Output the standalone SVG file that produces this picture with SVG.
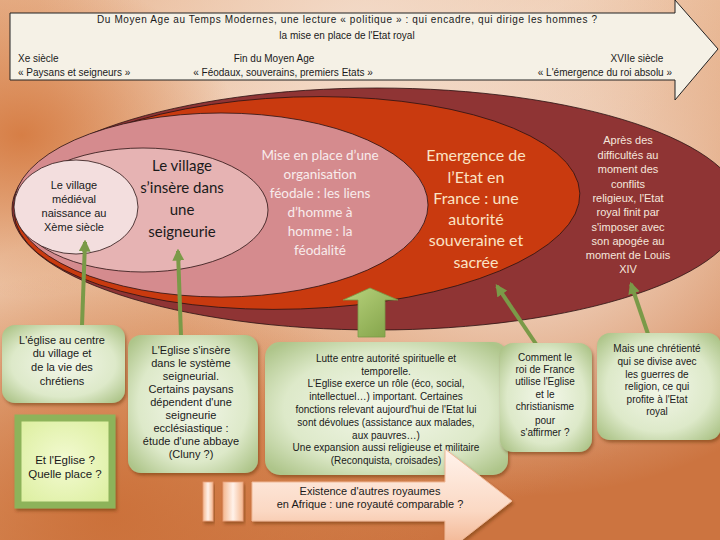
<svg xmlns="http://www.w3.org/2000/svg" width="720" height="540" viewBox="0 0 720 540">
<defs>
<linearGradient id="bg" x1="0" y1="0" x2="0.6" y2="1">
<stop offset="0" stop-color="#e7b28c"/>
<stop offset="0.35" stop-color="#eec8ab"/>
<stop offset="0.7" stop-color="#dc9463"/>
<stop offset="1" stop-color="#cc7440"/>
</linearGradient>
<radialGradient id="hl" cx="0.72" cy="0.42" r="0.5">
<stop offset="0" stop-color="#f4e0d2" stop-opacity="1"/>
<stop offset="1" stop-color="#f4e0d2" stop-opacity="0"/>
</radialGradient>
<radialGradient id="hl2" cx="0.5" cy="0.05" r="0.45">
<stop offset="0" stop-color="#f3dccb" stop-opacity="0.9"/>
<stop offset="1" stop-color="#f3dccb" stop-opacity="0"/>
</radialGradient>
<radialGradient id="or1" cx="0.03" cy="0.25" r="0.3">
<stop offset="0" stop-color="#d4773c" stop-opacity="0.9"/>
<stop offset="1" stop-color="#d4773c" stop-opacity="0"/>
</radialGradient>
<radialGradient id="or2" cx="0.15" cy="0.95" r="0.45">
<stop offset="0" stop-color="#c86a32" stop-opacity="0.8"/>
<stop offset="1" stop-color="#c86a32" stop-opacity="0"/>
</radialGradient>
<radialGradient id="gbox" cx="0.5" cy="0.5" r="0.65">
<stop offset="0" stop-color="#f3f7ea"/>
<stop offset="0.65" stop-color="#dde9c9"/>
<stop offset="1" stop-color="#aec58a"/>
</radialGradient>
<radialGradient id="ybox" cx="0.5" cy="0.5" r="0.7">
<stop offset="0" stop-color="#f3fad2"/>
<stop offset="1" stop-color="#dbee9c"/>
</radialGradient>
<linearGradient id="peach" x1="0" y1="0" x2="0" y2="1">
<stop offset="0" stop-color="#fff3ec"/>
<stop offset="0.6" stop-color="#fbd8c3"/>
<stop offset="1" stop-color="#f0ae88"/>
</linearGradient>
<linearGradient id="pill" x1="0" y1="0" x2="1" y2="0">
<stop offset="0" stop-color="#f4b890"/>
<stop offset="0.5" stop-color="#fff2ea"/>
<stop offset="1" stop-color="#f4b890"/>
</linearGradient>
<linearGradient id="garrow" x1="0" y1="0" x2="1" y2="1">
<stop offset="0" stop-color="#b9d47e"/>
<stop offset="1" stop-color="#7f9f45"/>
</linearGradient>
<filter id="sh" x="-10%" y="-10%" width="125%" height="130%">
<feDropShadow dx="1.5" dy="2.5" stdDeviation="1.5" flood-color="#5a2a10" flood-opacity="0.45"/>
</filter>
<marker id="ah" viewBox="0 0 10 10" refX="8" refY="5" markerWidth="3" markerHeight="3" orient="auto">
<path d="M0,0 L10,5 L0,10 z" fill="#7a9a48"/>
</marker>
</defs>
<style>
.c{font-family:"Liberation Sans","DejaVu Sans",sans-serif;fill:#1a1a1a;text-anchor:middle}
.s10{font-size:10px}
.s11{font-size:11px}
.cal{font-family:Lato,"Open Sans",sans-serif;text-anchor:middle}
.ell{stroke:#2a1212;stroke-width:0.8}
.gb{fill:url(#gbox);filter:url(#sh)}
.con{stroke:#7a9a48;stroke-width:4;fill:none;marker-end:url(#ah)}
</style>

<rect width="720" height="540" fill="url(#bg)"/>
<rect width="720" height="540" fill="url(#hl)"/>
<rect width="720" height="540" fill="url(#hl2)"/>
<rect width="720" height="540" fill="url(#or1)"/>
<rect width="720" height="540" fill="url(#or2)"/>

<g id="timeline">
<path d="M10,13 H675 V0 L718,49 L675,100 V80 H10 Z" fill="#f5f1e6" stroke="#222" stroke-width="1"/>
<text class="c s10" x="347" y="23" textLength="500" lengthAdjust="spacing">Du Moyen Age au Temps Modernes, une lecture « politique » :  qui encadre, qui dirige les hommes ?</text>
<text class="c s10" x="347" y="39">la mise en place de l'Etat royal</text>
<text class="c s10" x="18" y="62" style="text-anchor:start">Xe siècle</text>
<text class="c s10" x="18" y="76" style="text-anchor:start">« Paysans et seigneurs »</text>
<text class="c s10" x="274" y="62">Fin du Moyen Age</text>
<text class="c s10" x="283" y="76">« Féodaux, souverains, premiers Etats »</text>
<text class="c s10" x="637" y="62">XVIIe siècle</text>
<text class="c s10" x="672" y="76" style="text-anchor:end">« L'émergence du roi absolu »</text>
</g>

<g id="ellipse-absolu">
<ellipse cx="377" cy="209" rx="365" ry="121" fill="#8f3434" class="ell"/>
<text class="c s11" style="fill:#f5e6dc" x="628" y="144">Après des</text>
<text class="c s11" style="fill:#f5e6dc" x="628" y="159">difficultés au</text>
<text class="c s11" style="fill:#f5e6dc" x="628" y="173">moment des</text>
<text class="c s11" style="fill:#f5e6dc" x="628" y="188">conflits</text>
<text class="c s11" style="fill:#f5e6dc" x="628" y="202">religieux, l'Etat</text>
<text class="c s11" style="fill:#f5e6dc" x="628" y="216">royal finit par</text>
<text class="c s11" style="fill:#f5e6dc" x="628" y="231">s'imposer avec</text>
<text class="c s11" style="fill:#f5e6dc" x="628" y="245">son apogée au</text>
<text class="c s11" style="fill:#f5e6dc" x="628" y="259">moment de Louis</text>
<text class="c s11" style="fill:#f5e6dc" x="628" y="273">XIV</text>
</g>

<g id="ellipse-etat">
<ellipse cx="297" cy="203" rx="283" ry="106" fill="#c93a0f" class="ell" transform="rotate(-2 297 203)"/>
<g class="cal" style="font-size:16px;fill:#fbe3c4">
<text x="476" y="161">Emergence de</text>
<text x="476" y="183">l’Etat en</text>
<text x="476" y="204">France : une</text>
<text x="476" y="225">autorité</text>
<text x="476" y="246">souveraine et</text>
<text x="476" y="268">sacrée</text>
</g>
</g>

<g id="ellipse-feodalite">
<ellipse cx="221" cy="205" rx="207" ry="92" fill="#d58b8e" class="ell"/>
<g class="cal" style="font-size:13.5px;fill:#f8ecec">
<text x="320" y="160">Mise en place d’une</text>
<text x="320" y="179">organisation</text>
<text x="320" y="198">féodale : les liens</text>
<text x="320" y="217">d’homme à</text>
<text x="320" y="236">homme : la</text>
<text x="320" y="255">féodalité</text>
</g>
</g>

<g id="ellipse-seigneurie">
<ellipse cx="143" cy="210" rx="125" ry="62" fill="#e6b3b3" class="ell"/>
<g class="cal" style="font-size:15px;fill:#1a1a1a">
<text x="182" y="171">Le village</text>
<text x="182" y="193">s’insère dans</text>
<text x="182" y="215">une</text>
<text x="182" y="237">seigneurie</text>
</g>
</g>

<g id="ellipse-village">
<ellipse cx="76" cy="207" rx="62" ry="47" fill="#f3dede" class="ell"/>
<text class="c s11" x="74" y="189">Le village</text>
<text class="c s11" x="74" y="203">médiéval</text>
<text class="c s11" x="74" y="217">naissance au</text>
<text class="c s11" x="74" y="231">Xème siècle</text>
</g>

<g id="connectors">
<line class="con" x1="82" y1="326" x2="85" y2="242"/>
<line class="con" x1="181" y1="336" x2="178" y2="251"/>
<line class="con" x1="536" y1="344" x2="497" y2="286"/>
<line class="con" x1="648" y1="334" x2="631" y2="284"/>
<path d="M358,337 V300 H343 L370,288 L398,300 H385 V337 Z" fill="url(#garrow)" stroke="#7a9a48" stroke-width="0.8"/>
</g>

<g id="box-eglise-centre">
<rect class="gb" x="2" y="325" width="123" height="78" rx="13"/>
<text class="c s11" x="62" y="344">L'église au centre</text>
<text class="c s11" x="62" y="357">du village et</text>
<text class="c s11" x="62" y="371">de la vie des</text>
<text class="c s11" x="62" y="385">chrétiens</text>
</g>

<g id="box-et-eglise">
<rect x="18" y="418" width="94" height="87" fill="url(#ybox)" stroke="#8db35a" stroke-width="7" filter="url(#sh)"/>
<text class="c" style="font-size:11.5px" x="65" y="464">Et l'Eglise ?</text>
<text class="c" style="font-size:11.5px" x="65" y="478">Quelle place ?</text>
</g>

<g id="box-eglise-seigneurial">
<rect class="gb" x="128" y="335" width="130" height="138" rx="13"/>
<text class="c s11" x="191" y="354">L'Eglise s'insère</text>
<text class="c s11" x="191" y="367">dans le système</text>
<text class="c s11" x="191" y="380">seigneurial.</text>
<text class="c s11" x="191" y="393">Certains paysans</text>
<text class="c s11" x="191" y="406">dépendent d'une</text>
<text class="c s11" x="191" y="419">seigneurie</text>
<text class="c s11" x="191" y="432">ecclésiastique :</text>
<text class="c s11" x="191" y="445">étude d'une abbaye</text>
<text class="c s11" x="191" y="458">(Cluny ?)</text>
</g>

<g id="box-lutte">
<rect class="gb" x="265" y="342" width="243" height="133" rx="15"/>
<text class="c s10" x="386" y="362">Lutte entre autorité spirituelle et</text>
<text class="c s10" x="386" y="375">temporelle.</text>
<text class="c s10" x="386" y="387">L'Eglise exerce un rôle (éco, social,</text>
<text class="c s10" x="386" y="400">intellectuel…) important. Certaines</text>
<text class="c s10" x="386" y="413">fonctions relevant aujourd'hui de l'Etat lui</text>
<text class="c s10" x="386" y="426">sont dévolues (assistance aux malades,</text>
<text class="c s10" x="386" y="439">aux pauvres…)</text>
<text class="c s10" x="386" y="451">Une expansion aussi religieuse et militaire</text>
<text class="c s10" x="386" y="464">(Reconquista, croisades)</text>
</g>

<g id="arrow-afrique">
<rect x="203" y="482" width="10" height="39" fill="url(#pill)" stroke="#e8a07a" stroke-width="0.8" filter="url(#sh)"/>
<rect x="223" y="482" width="20" height="39" fill="url(#pill)" stroke="#e8a07a" stroke-width="0.8" filter="url(#sh)"/>
<path d="M252,482 H445 V449 L512,501 L445,553 V521 H252 Z" fill="url(#peach)" stroke="#f0b896" stroke-width="1" filter="url(#sh)"/>
<text class="c s11" x="370" y="495">Existence d'autres royaumes</text>
<text class="c s11" x="370" y="508">en Afrique : une royauté comparable ?</text>
</g>

<g id="box-roi">
<rect class="gb" x="500" y="343" width="92" height="109" rx="13"/>
<text class="c s10" x="545" y="361">Comment le</text>
<text class="c s10" x="545" y="373">roi de France</text>
<text class="c s10" x="545" y="385">utilise l'Eglise</text>
<text class="c s10" x="545" y="398">et le</text>
<text class="c s10" x="545" y="410">christianisme</text>
<text class="c s10" x="545" y="424">pour</text>
<text class="c s10" x="545" y="436">s'affirmer ?</text>
</g>

<g id="box-chretiente">
<rect class="gb" x="597" y="333" width="124" height="107" rx="13"/>
<text class="c s10" x="657" y="352">Mais une chrétienté</text>
<text class="c s10" x="657" y="365">qui se divise avec</text>
<text class="c s10" x="657" y="378">les guerres de</text>
<text class="c s10" x="657" y="390">religion, ce qui</text>
<text class="c s10" x="657" y="403">profite à l'Etat</text>
<text class="c s10" x="657" y="415">royal</text>
</g>
</svg>
